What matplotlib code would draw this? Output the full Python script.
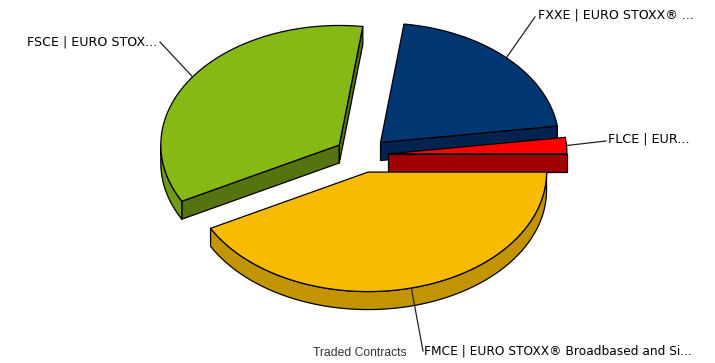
import numpy as np
import matplotlib
matplotlib.use("Agg")
import matplotlib.pyplot as plt
from matplotlib.patches import Polygon

# share of traded contracts, clockwise from 3 o'clock
names = ["FMCE | EURO STOXX® Broadbased and Si...", "FSCE | EURO STOX...",
         "FXXE | EURO STOXX® ...", "FLCE | EUR..."]
shares = [42.2, 34.9, 20.7, 2.2]
topColors = ["#f8bb00", "#86b816", "#003671", "#ff0000"]
arcColors = ["#c29400", "#6f9a12", "#00244f", "#a00000"]
faceColors = ["#c29400", "#55730f", "#00244f", "#a00000"]
leaderEnds = [(423, 351), (160, 42), (535, 17), (606, 141)]
labelPos = [(424, 351), (157, 42), (538, 15), (608, 139)]
labelAligns = ["left", "right", "left", "left"]
labelSizes = [8.85, 9.1, 9.05, 9.15]

CX, CY = 361.5, 155
RX, RY = 178.5, 119.5
EXPLODE = 27
EXPLODE_Y = 17.6
DEPTH = 18
drawOrder = [1, 2, 3, 0]


def point(center, angle, rx=RX, ry=RY):
    rad = np.radians(angle)
    return center[0] + rx * np.cos(rad), center[1] + ry * np.sin(rad)


def arc(center, a1, a2):
    angles = np.linspace(a1, a2, 120)
    rad = np.radians(angles)
    return np.column_stack((center[0] + RX * np.cos(rad), center[1] + RY * np.sin(rad)))


def addPoly(ax, pts, color):
    ax.add_patch(Polygon(pts, closed=True, facecolor=color, edgecolor="black", linewidth=0.9, joinstyle="round"))


def addFace(ax, center, angle, color):
    outer = point(center, angle)
    addPoly(ax, [center, outer, (outer[0], outer[1] + DEPTH), (center[0], center[1] + DEPTH)], color)


fig = plt.figure(figsize=(7.15, 3.63), dpi=100)
ax = fig.add_axes([0, 0, 1, 1])
ax.set_xlim(0, 715)
ax.set_ylim(363, 0)
ax.axis("off")

edges = np.concatenate(([0], np.cumsum(shares) / np.sum(shares) * 360))

for i in drawOrder:
    a1, a2 = edges[i], edges[i + 1]
    mid = (a1 + a2) / 2
    center = point((CX, CY), mid, EXPLODE, EXPLODE_Y)

    # sides first, the top covers what is hidden
    if -np.cos(np.radians(a1)) > 0:
        addFace(ax, center, a1, faceColors[i])
    if np.cos(np.radians(a2)) > 0:
        addFace(ax, center, a2, faceColors[i])
    lo, hi = max(a1, 0), min(a2, 180)
    if hi > lo:
        top = arc(center, lo, hi)
        addPoly(ax, np.vstack((top, (top + [0, DEPTH])[::-1])), arcColors[i])

    addPoly(ax, np.vstack(([center], arc(center, a1, a2))), topColors[i])

    start = point(center, mid)
    end = leaderEnds[i]
    ax.plot([start[0], end[0]], [start[1], end[1]], color="#222222", linewidth=0.9, zorder=5)
    ax.text(labelPos[i][0], labelPos[i][1], names[i], ha=labelAligns[i], va="center",
            fontsize=labelSizes[i], color="black", family="DejaVu Sans")

ax.text(360, 353, "Traded Contracts", ha="center", va="center", fontsize=8.7, color="#333333", family="Liberation Sans")

fig.savefig("out.png", dpi=100)
